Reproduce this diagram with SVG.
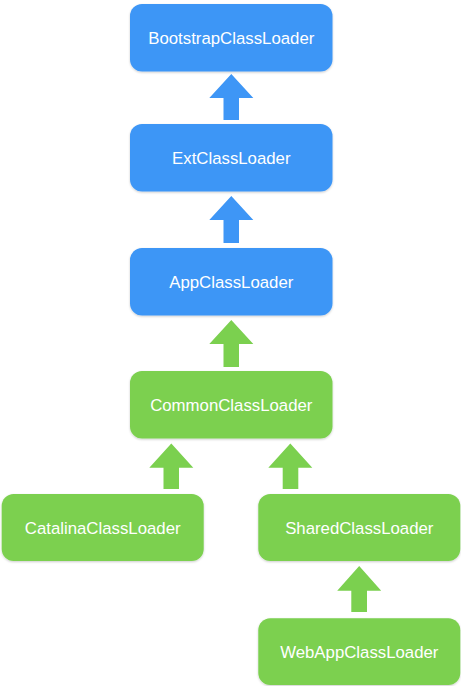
<svg xmlns="http://www.w3.org/2000/svg" width="461" height="686" viewBox="0 0 461 686">
<defs>
<filter id="sh" x="-10%" y="-10%" width="120%" height="130%">
<feDropShadow dx="0" dy="1" stdDeviation="1" flood-color="#000" flood-opacity="0.2"/>
</filter>
</defs>
<style>
.b{fill:#3e96f6;filter:url(#sh)}
.g{fill:#7bd04f;filter:url(#sh)}
.ab{fill:#3e96f6}
.ag{fill:#7bd04f}
text{font-family:"Liberation Sans",Arial,sans-serif;font-size:16.8px;fill:#fff;text-anchor:middle}
</style>
<rect width="461" height="686" fill="#fff"/>
<g id="connectors">
<polygon class="ab" points="231.3,74 253.3,98 239,98 239,120 223.5,120 223.5,98 209.3,98"/>
<polygon class="ab" points="231.3,196 253.3,220 239,220 239,243 223.5,243 223.5,220 209.3,220"/>
<polygon class="ag" points="231.3,320 253.3,344 239,344 239,367 223.5,367 223.5,344 209.3,344"/>
<polygon class="ag" points="171.3,443.5 193.3,467.7 179,467.7 179,489 163.5,489 163.5,467.7 149.3,467.7"/>
<polygon class="ag" points="290.3,443.5 312.3,467.7 298.3,467.7 298.3,489 282.7,489 282.7,467.7 268.3,467.7"/>
<polygon class="ag" points="359.2,566 381.2,590.7 367,590.7 367,612 351.3,612 351.3,590.7 337.2,590.7"/>
</g>
<g id="bootstrap"><rect class="b" x="130" y="4" width="202.5" height="67.5" rx="12"/><text x="231.3" y="44">BootstrapClassLoader</text></g>
<g id="ext"><rect class="b" x="130" y="124" width="202.5" height="67.5" rx="12"/><text x="231.3" y="164">ExtClassLoader</text></g>
<g id="app"><rect class="b" x="130" y="248" width="202.5" height="67.5" rx="12"/><text x="231.3" y="288">AppClassLoader</text></g>
<g id="common"><rect class="g" x="130" y="371" width="202.5" height="67.5" rx="12"/><text x="231.3" y="411">CommonClassLoader</text></g>
<g id="catalina"><rect class="g" x="1.7" y="494" width="202" height="67" rx="12"/><text x="102.7" y="533.5">CatalinaClassLoader</text></g>
<g id="shared"><rect class="g" x="258.3" y="494" width="202" height="67" rx="12"/><text x="359.3" y="533.5">SharedClassLoader</text></g>
<g id="webapp"><rect class="g" x="258.3" y="618.3" width="202" height="66.7" rx="12"/><text x="359.3" y="657.5">WebAppClassLoader</text></g>
</svg>
